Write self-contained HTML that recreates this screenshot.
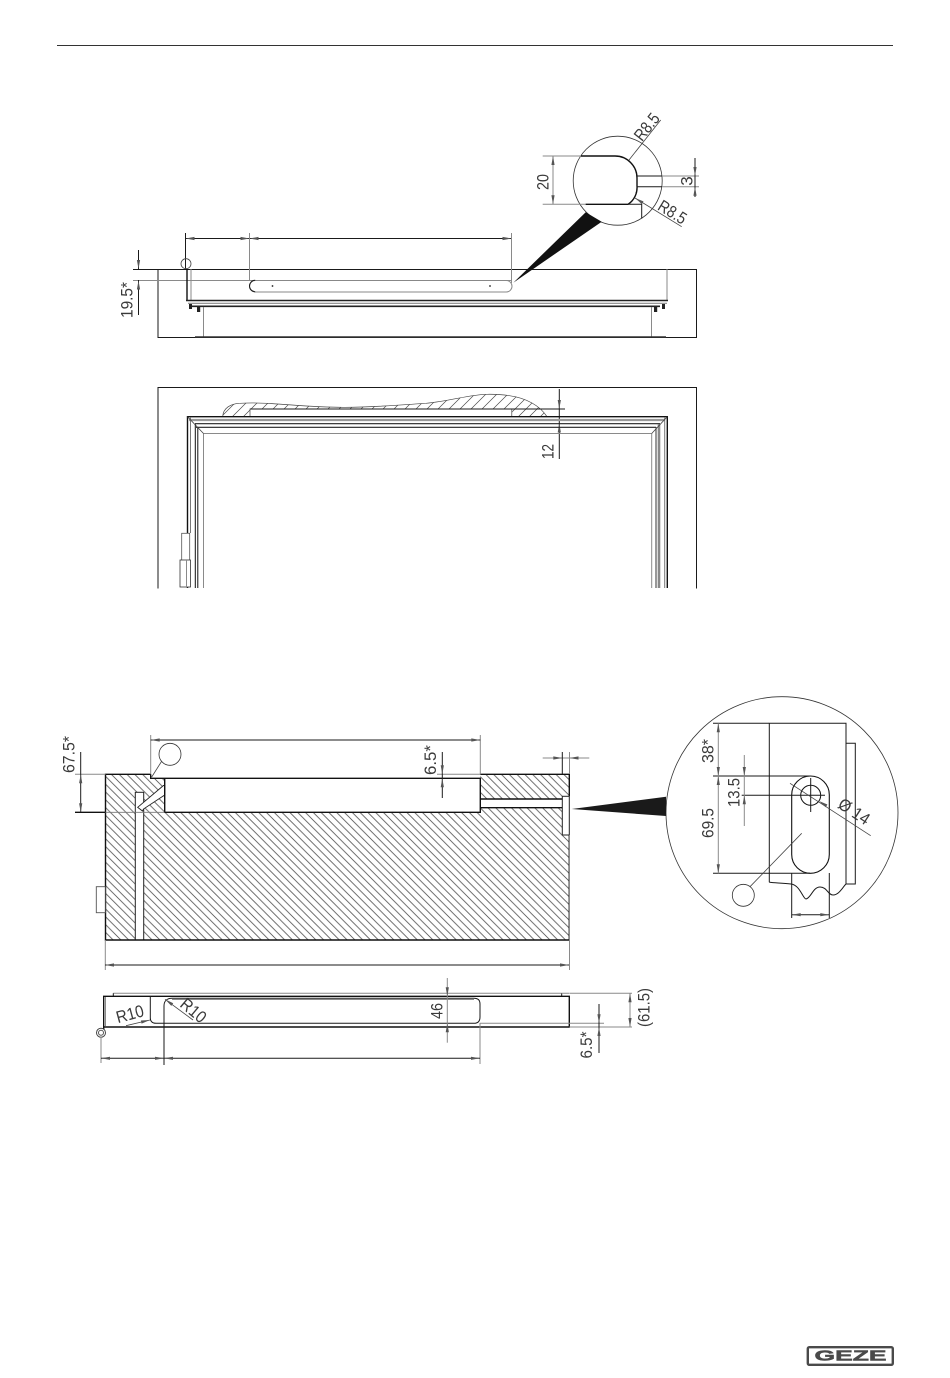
<!DOCTYPE html>
<html><head><meta charset="utf-8"><style>
html,body{margin:0;padding:0;background:#fff}
svg{display:block}
text{font-family:"Liberation Sans",sans-serif;font-size:17px;fill:#3a3a3a;text-anchor:middle;dominant-baseline:central}
.k{stroke:#1a1a1a;stroke-width:1;fill:none}
.b{stroke:#111;stroke-width:1.4;fill:none}
.g{stroke:#8a8a8a;stroke-width:1;fill:none}
.t{stroke:#444;stroke-width:.8;fill:none}
</style></head><body>
<svg width="950" height="1378" viewBox="0 0 950 1378" xmlns="http://www.w3.org/2000/svg">
<defs>
<pattern id="h" width="7.8" height="7.8" patternUnits="userSpaceOnUse">
<path d="M-1,-1L8.8,8.8M-1,6.8L1,8.8M6.8,-1L8.8,1" stroke="#555" stroke-width=".8" fill="none"/>
</pattern>
<pattern id="f" width="11" height="11" patternUnits="userSpaceOnUse">
<path d="M-1,12L12,-1M-1,1L1,-1M10,12L12,10" stroke="#444" stroke-width=".65" fill="none"/>
</pattern>
<polygon id="a" points="0,0 -9,-1.6 -9,1.6" fill="#555"/>
</defs>
<rect width="950" height="1378" fill="#fff"/>
<path d="M57,45.5H893" stroke="#333" stroke-width="1"/>

<!-- TOP VIEW -->
<path class="k" d="M133,269.5H696.5V337.5H158V269.5"/>
<path class="g" d="M133,280.5H256M506,280.5H512"/>
<rect x="249.5" y="280.5" width="262.5" height="11.5" rx="5.7" fill="#fff" stroke="#888"/>
<path d="M255.2,280.3a5.7,5.7 0 0 0 0,11.4" class="k"/>
<circle cx="272.5" cy="286" r=".9" fill="#222"/><circle cx="490" cy="286" r=".9" fill="#222"/>
<path class="k" d="M185.5,233V269M185.5,238.5H511"/>
<path class="g" d="M249.5,233V280M511.5,233V283"/>
<use href="#a" transform="translate(185.5,238.5) rotate(180)"/><use href="#a" transform="translate(249.5,238.5)"/>
<use href="#a" transform="translate(249.5,238.5) rotate(180)"/><use href="#a" transform="translate(511.5,238.5)"/>
<circle cx="186" cy="263.7" r="5" class="t" stroke="#555"/>
<path class="b" d="M187,269V301"/><path class="g" d="M191,269V301M667,269V301"/>
<path d="M186,300.5H668" stroke="#222" stroke-width="1.6"/>
<path d="M188,303.3H667" stroke="#888" stroke-width="1.2"/>
<path d="M190,306.3H660" stroke="#222" stroke-width="1.6"/>
<rect x="189" y="304" width="3" height="5" fill="#222"/><rect x="197" y="306" width="3.2" height="6" fill="#222"/>
<rect x="654" y="306" width="3.2" height="6" fill="#222"/><rect x="662" y="304" width="3" height="5" fill="#222"/>
<path class="g" d="M203.5,307V337M651.5,307V337"/>
<path d="M195,337H666" stroke="#333" stroke-width="1.5"/>
<path class="k" d="M138.5,250V269M138.5,280V315" stroke-width=".8"/>
<use href="#a" transform="translate(138.5,269) rotate(90)"/><use href="#a" transform="translate(138.5,280.5) rotate(-90)"/>
<text transform="translate(127,300) rotate(-90)" textLength="36" lengthAdjust="spacingAndGlyphs">19.5*</text>

<!-- TOP DETAIL -->
<circle cx="617.7" cy="180.7" r="44.5" fill="#fff" stroke="#333" stroke-width=".8"/>
<polygon points="513.3,282.7 585.7,212.3 601.7,221.7" fill="#111"/>
<path class="g" d="M542.7,156H581M542.7,204.3H586"/>
<path class="b" d="M581,156H615A22,22 0 0 1 637,178V186A20,20 0 0 1 628,204.3H585.7" stroke-width="1.2"/>
<path class="k" d="M628,204.3H641.7V218.5" stroke-width=".9"/>
<path class="k" d="M637,176H662M637,186.7H662" stroke-width=".9"/>
<path class="g" d="M662,176H699M662,186.7H699"/>
<path class="k" d="M695,158V197" stroke-width=".7"/>
<use href="#a" transform="translate(695,176) rotate(90)"/><use href="#a" transform="translate(695,186.7) rotate(-90)"/>
<path class="g" d="M553,156V204.3"/>
<use href="#a" transform="translate(553,156) rotate(-90)"/><use href="#a" transform="translate(553,204.3) rotate(90)"/>
<text transform="translate(543,182) rotate(-90)" textLength="16" lengthAdjust="spacingAndGlyphs">20</text>
<text transform="translate(687,181) rotate(-90)">3</text>
<path class="t" d="M629,160L660.7,120M635,198L681.7,226.7"/>
<use href="#a" transform="translate(635,198) rotate(211.6)"/>
<text transform="translate(647,127) rotate(-51.6)" textLength="30" lengthAdjust="spacingAndGlyphs">R8.5</text>
<text transform="translate(672.3,212.3) rotate(31.6)" textLength="30" lengthAdjust="spacingAndGlyphs">R8.5</text>

<!-- FRONT VIEW -->
<path class="k" d="M158,588.5V387.5H696.5V588.5" stroke="#444"/>
<path d="M222.7,416.7C223,408 231,403.5 240,403.3C252,402.5 262,403 272,403.6C295,405 320,407.5 345,407.3C375,407.2 400,405 426,403.3C450,401 470,394.5 487,394.3C505,394 520,396 532,403C540,407.5 544,412 547,416.7H511.7V409H250V416.7Z" fill="url(#f)" stroke="#444" stroke-width=".7"/>
<path class="g" d="M511.7,409V417"/>
<path class="k" d="M250,409H565" stroke-width=".7"/>
<path class="k" d="M559.3,389V459" stroke-width=".7"/>
<use href="#a" transform="translate(559.3,409) rotate(90)"/><use href="#a" transform="translate(559.3,423.5) rotate(-90)"/>
<text transform="translate(548,451.5) rotate(-90)" textLength="15" lengthAdjust="spacingAndGlyphs">12</text>

<path class="b" d="M187.5,588V416.7H667.3V588"/>
<path d="M189,420H665" stroke="#999" stroke-width="2.2"/>
<path d="M195,423.7H660" stroke="#222" stroke-width="1.1"/>
<path d="M196,427.3H656" stroke="#222" stroke-width="1.1"/>
<path d="M203,433.5H652" stroke="#8a8a8a" stroke-width="1"/>
<path d="M190.5,417V533M664.7,417V588" stroke="#777" stroke-width="1"/>
<path d="M195.3,424V588M197.8,427V588" stroke="#111" stroke-width="1"/>
<path d="M203.5,433V588M651.7,433V588" stroke="#8a8a8a" stroke-width="1"/>
<path d="M659,424V588" stroke="#888" stroke-width="2.6"/>
<path d="M656,427V588" stroke="#333" stroke-width="1"/>
<path class="t" d="M187.5,416.7L203.5,433.5M667.3,416.7L651.7,433.5"/>
<rect x="181.7" y="533.3" width="8" height="27" fill="#fff" stroke="#555" stroke-width=".8"/>
<rect x="180" y="560" width="10.5" height="27" fill="#fff" stroke="#333" stroke-width=".8"/>
<path class="g" d="M186.5,560V587"/>

<!-- SECTION -->
<rect x="105.5" y="774.3" width="464" height="165.7" fill="url(#h)"/>
<rect x="164.7" y="774" width="315.6" height="38.3" fill="#fff"/>
<rect x="150.7" y="774" width="14" height="4.3" fill="#fff"/>
<rect x="480.3" y="799" width="82" height="8.7" fill="#fff"/>
<rect x="135.3" y="792.3" width="8.4" height="147.7" fill="#fff" stroke="#222" stroke-width="1"/>
<polygon points="137.7,807.3 163.5,785.5 164.7,785.5 164.7,795 143.5,809 142.5,811" fill="#fff" stroke="#222" stroke-width=".9"/>
<rect x="562.3" y="796.3" width="7" height="38.7" fill="#fff" stroke="#222" stroke-width="1"/>
<path class="b" d="M569.3,835V940H105.5V774.3H150.7M164.7,778.3V812.3H480.3V778.3H150.7V774.3M480.3,774.3H569.3V796M480.3,799H562.3M480.3,807.7H562.3" stroke-width="1.1"/>
<path class="b" stroke-width="1" d="M75,812.3H105.5"/>
<path d="M105.5,812.3H164.7" stroke="#777" stroke-width=".9"/>
<path class="g" d="M75,774.3H105.5M150.7,735V774M480.3,735V774M437,774.3H480"/>
<path class="k" d="M150.7,740H480.3" stroke="#888"/>
<use href="#a" transform="translate(150.7,740) rotate(180)"/><use href="#a" transform="translate(480.3,740)"/>
<circle cx="170" cy="754.3" r="11" fill="#fff" stroke="#333" stroke-width=".8"/>
<path class="t" d="M161.5,761.5L151.7,777"/>
<path class="k" d="M80.7,752V812" stroke="#777"/>
<use href="#a" transform="translate(80.7,774.3) rotate(-90)"/><use href="#a" transform="translate(80.7,812.3) rotate(90)"/>
<text transform="translate(69,754.5) rotate(-90)" textLength="37" lengthAdjust="spacingAndGlyphs">67.5*</text>
<path class="k" d="M442.3,752V798" stroke="#555" stroke-width=".8"/>
<use href="#a" transform="translate(442.3,774.3) rotate(90)"/><use href="#a" transform="translate(442.3,778.3) rotate(-90)"/>
<text transform="translate(430.5,760) rotate(-90)" textLength="30" lengthAdjust="spacingAndGlyphs">6.5*</text>
<path class="g" d="M542.7,758H589.3M569.5,752V774M569.5,835V970"/>
<path class="k" d="M562.3,752V774" stroke="#555"/>
<use href="#a" transform="translate(562.3,758)"/><use href="#a" transform="translate(569.5,758) rotate(180)"/>
<rect x="96.3" y="886.7" width="9" height="26" fill="#fff" stroke="#555" stroke-width=".9"/>
<path class="g" d="M105.3,940V970"/>
<path class="k" d="M105,965H569" stroke="#666"/>
<use href="#a" transform="translate(105,965) rotate(180)"/><use href="#a" transform="translate(569,965)"/>

<!-- SECTION DETAIL -->
<circle cx="782" cy="812.7" r="116" fill="#fff" stroke="#333" stroke-width=".8"/>
<polygon points="571.7,809 666,796.7 666,816" fill="#1a1a1a"/>
<path class="k" d="M769.3,882.3V723.3H846V884M846,743.3H855.3V884H846" stroke="#222"/>
<path class="k" d="M769.3,882.3C775,883 783,883 791,884C800,885 803,899 806,899C811,898 813,887 820,887C827,887 828,895 833,895C839,895 842,888 846,884" stroke="#222" stroke-width=".9"/>
<rect x="791.7" y="776" width="37.6" height="97.3" rx="18.8" fill="#fff" stroke="#111" stroke-width="1.1"/>
<circle cx="810.7" cy="795.3" r="10" fill="none" stroke="#111" stroke-width="1"/>
<path class="k" d="M713,723.3H769M713,776H810M713,873.3H810M741.7,795.3H825M810.7,778V812" stroke-width=".9"/>
<path class="g" d="M718.3,723.3V873.3M744.3,755V826"/>
<use href="#a" transform="translate(718.3,723.3) rotate(-90)"/><use href="#a" transform="translate(718.3,776) rotate(90)"/>
<use href="#a" transform="translate(718.3,776) rotate(-90)"/><use href="#a" transform="translate(718.3,873.3) rotate(90)"/>
<use href="#a" transform="translate(744.3,776) rotate(90)"/><use href="#a" transform="translate(744.3,795.3) rotate(-90)"/>
<text transform="translate(708,751) rotate(-90)" textLength="24" lengthAdjust="spacingAndGlyphs">38*</text>
<text transform="translate(734,792.5) rotate(-90)" textLength="29" lengthAdjust="spacingAndGlyphs">13.5</text>
<text transform="translate(708,823) rotate(-90)" textLength="30" lengthAdjust="spacingAndGlyphs">69.5</text>
<path class="t" d="M790,783.3L870.7,835.7"/>
<use href="#a" transform="translate(819,801) rotate(213)"/>
<text transform="translate(854,811.7) rotate(33)" textLength="34" lengthAdjust="spacingAndGlyphs">Ø 14</text>
<circle cx="743.3" cy="895.3" r="11" fill="#fff" stroke="#333" stroke-width=".8"/>
<path class="t" d="M750,886.7L801.7,833.3"/>
<path class="k" d="M791.7,873V918M829.3,873V918" stroke-width=".8"/>
<path class="k" d="M791.7,914.7H829.3" stroke-width=".7"/>
<use href="#a" transform="translate(791.7,914.7) rotate(180)"/><use href="#a" transform="translate(829.3,914.7)"/>

<!-- BOTTOM VIEW -->
<path class="g" d="M113.3,993.3H561.7" stroke="#555"/>
<path class="k" d="M113.3,996V993.3M561.7,993.3V996"/>
<path class="b" d="M103.7,1030V996.3H569.3V1027H103.7"/>
<path class="g" d="M105.5,997V1026"/>
<path class="k" d="M150.3,996.3V1018C150.3,1021 152,1023.3 156,1023.3H474C478,1023.3 480,1021 480,1017V1004C480,1000.5 478,998.3 474,998.3H172C167,998.3 164,1001 164,1006V1023"/>
<path class="g" d="M172,999.5H474M480,1023.3H604M569.3,993.3H632M569.3,1027H632M561.7,993.3H569"/>
<circle cx="101" cy="1032.7" r="4.5" fill="#fff" stroke="#444"/>
<circle cx="101" cy="1032.7" r="2.5" fill="none" stroke="#555"/>
<path class="g" d="M101,1037V1063"/>
<path class="k" d="M164,1023V1065" stroke="#555"/>
<path class="g" d="M480,1023V1064"/>
<path class="k" d="M101,1058.3H480" stroke="#666"/>
<use href="#a" transform="translate(101,1058.3) rotate(180)"/><use href="#a" transform="translate(164,1058.3)"/>
<use href="#a" transform="translate(164,1058.3) rotate(180)"/><use href="#a" transform="translate(480,1058.3)"/>
<text transform="translate(130,1014.3) rotate(-15)" textLength="28" lengthAdjust="spacingAndGlyphs">R10</text>
<path class="t" d="M126,1025.7L150,1020"/>
<use href="#a" transform="translate(150,1020) rotate(-13)"/>
<text transform="translate(193.3,1010.7) rotate(40)" textLength="28" lengthAdjust="spacingAndGlyphs">R10</text>
<path class="t" d="M165,999.3L193,1020"/>
<use href="#a" transform="translate(165,999.3) rotate(216)"/>
<path class="g" d="M447.3,978V1042.7"/>
<use href="#a" transform="translate(447.3,996.3) rotate(90)"/><use href="#a" transform="translate(447.3,1023.3) rotate(-90)"/>
<text transform="translate(437,1011) rotate(-90)" textLength="16" lengthAdjust="spacingAndGlyphs">46</text>
<path class="g" d="M630,993.3V1027"/>
<use href="#a" transform="translate(630,993.3) rotate(-90)"/><use href="#a" transform="translate(630,1027) rotate(90)"/>
<text transform="translate(644,1007.5) rotate(-90)" textLength="39" lengthAdjust="spacingAndGlyphs">(61.5)</text>
<path class="k" d="M599,1004V1053" stroke="#555" stroke-width=".8"/>
<use href="#a" transform="translate(599,1023.3) rotate(90)"/><use href="#a" transform="translate(599,1027) rotate(-90)"/>
<text transform="translate(586.5,1045) rotate(-90)" textLength="27" lengthAdjust="spacingAndGlyphs">6.5*</text>

<!-- LOGO -->
<rect x="807.8" y="1347.2" width="85" height="17.6" rx="1.5" fill="#fff" stroke="#4a4a4a" stroke-width="2.4"/>
<text x="850.5" y="1356.2" textLength="72" lengthAdjust="spacingAndGlyphs" style="font-size:15px;font-weight:bold;fill:#4a4a4a;stroke:#4a4a4a;stroke-width:.5">GEZE</text>
</svg>
</body></html>
